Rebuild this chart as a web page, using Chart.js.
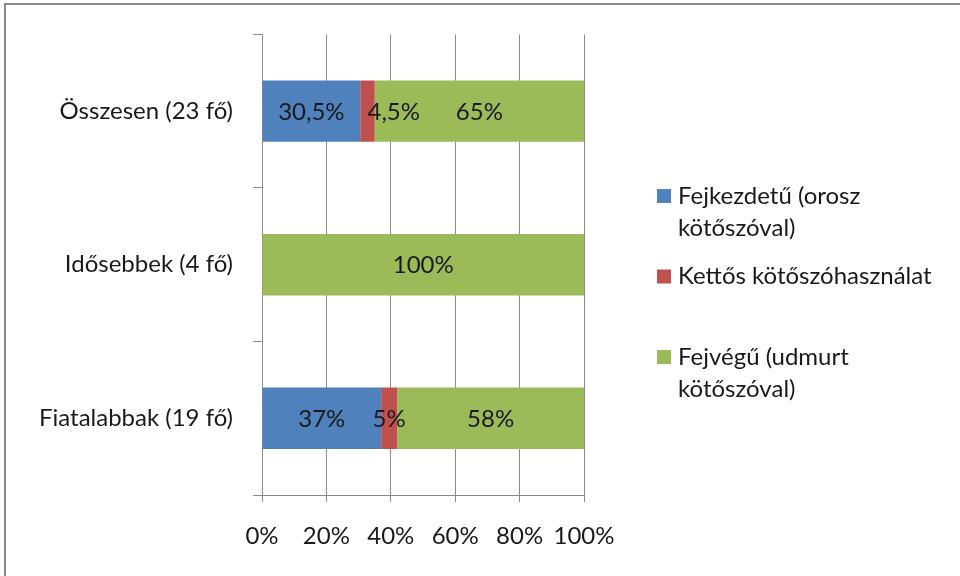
<!DOCTYPE html>
<html>
<head>
<meta charset="utf-8">
<script src="https://cdn.jsdelivr.net/npm/chart.js@4/dist/chart.umd.min.js"></script>
<style>
  html, body { margin: 0; padding: 0; background: #fff; }
  #wrap { position: relative; width: 960px; height: 576px; overflow: hidden; }
  #frame { position: absolute; left: 4px; top: 3px; width: 2000px; height: 2000px;
           border-top: 2px solid #8a8a8a; border-left: 2px solid #8a8a8a; box-sizing: border-box; pointer-events: none; }
  canvas { position: absolute; left: 0; top: 0; }
</style>
</head>
<body>
<div id="wrap">
  <canvas id="c" width="960" height="576"></canvas>
  <div id="frame"></div>
</div>
<script>
const categories = ['Összesen (23 fő)', 'Idősebbek (4 fő)', 'Fiatalabbak (19 fő)'];
const seriesNames = ['Fejkezdetű (orosz kötőszóval)', 'Kettős kötőszóhasználat', 'Fejvégű (udmurt kötőszóval)'];
const fejkezdetu = [30.5, 0, 37];
const kettos = [4.5, 0, 5];
const fejvegu = [65, 100, 58];
const valueLabels = [
  ['30,5%', '', '37%'],
  ['4,5%', '', '5%'],
  ['65%', '100%', '58%']
];
const xTicks = [0, 20, 40, 60, 80, 100];
const colors = ['#4F81BD', '#C0504D', '#9BBB59'];

const FONT = 'Lato, "Open Sans", sans-serif';
const FS = 24;

const dataLabelPlugin = {
  id: 'dataLabels',
  afterDatasetsDraw(chart) {
    const ctx = chart.ctx;
    ctx.save();
    ctx.font = FS + 'px ' + FONT;
    ctx.fillStyle = '#1a1a1a';
    ctx.textBaseline = 'middle';
    ctx.textAlign = 'left';
    const n = chart.data.labels.length;
    for (let i = 0; i < n; i++) {
      let prevEnd = -Infinity;
      chart.data.datasets.forEach((ds, d) => {
        const v = ds.data[i];
        if (!v) return;
        const el = chart.getDatasetMeta(d).data[i];
        const txt = valueLabels[d][i];
        const w = ctx.measureText(txt).width;
        const cx = (el.x + el.base) / 2;
        let start = cx - w / 2;
        if (start < prevEnd + 10) start = Math.max(start, cx);
        ctx.fillText(txt, start, el.y + 1);
        prevEnd = start + w;
      });
    }
    ctx.restore();
  }
};

function wrapText(ctx, text, maxW) {
  const words = text.split(' ');
  const lines = [];
  let cur = '';
  words.forEach(w => {
    const t = cur ? cur + ' ' + w : w;
    if (ctx.measureText(t).width > maxW && cur) { lines.push(cur); cur = w; }
    else cur = t;
  });
  if (cur) lines.push(cur);
  return lines;
}

const legendPlugin = {
  id: 'customLegend',
  afterDraw(chart) {
    const ctx = chart.ctx;
    ctx.save();
    ctx.font = FS + 'px ' + FONT;
    ctx.textBaseline = 'middle';
    const boxX = 657, textX = 678, startY = 196, step = 80.5, lh = 32, maxW = 272;
    chart.data.datasets.forEach((ds, d) => {
      const y0 = startY + d * step;
      ctx.fillStyle = ds.backgroundColor;
      ctx.fillRect(boxX, y0 - 7, 14, 14);
      ctx.fillStyle = '#1a1a1a';
      const lines = wrapText(ctx, ds.label, maxW);
      lines.forEach((ln, k) => ctx.fillText(ln, textX, y0 + k * lh));
    });
    ctx.restore();
  }
};

new Chart(document.getElementById('c'), {
  type: 'bar',
  data: {
    labels: categories,
    datasets: [
      { label: seriesNames[0], data: fejkezdetu, backgroundColor: colors[0] },
      { label: seriesNames[1], data: kettos, backgroundColor: colors[1] },
      { label: seriesNames[2], data: fejvegu, backgroundColor: colors[2] }
    ]
  },
  options: {
    indexAxis: 'y',
    responsive: false,
    animation: false,
    devicePixelRatio: 1,
    layout: { padding: { left: 12, top: 32, right: 376, bottom: 0 } },
    datasets: { bar: { barPercentage: 0.4, categoryPercentage: 1.0, borderWidth: 0 } },
    plugins: { legend: { display: false }, tooltip: { enabled: false } },
    scales: {
      x: {
        stacked: true,
        min: 0, max: 100,
        afterBuildTicks(scale) { scale.ticks = xTicks.map(v => ({ value: v })); },
        afterFit(scale) { scale.height = 81; },
        ticks: {
          callback: v => v + '%',
          color: '#1a1a1a',
          font: { family: FONT, size: FS },
          padding: 20,
          maxRotation: 0
        },
        grid: { color: '#8c8c8c', lineWidth: 1, tickLength: 7, drawOnChartArea: true },
        border: { color: '#8c8c8c', width: 1 }
      },
      y: {
        stacked: true,
        afterFit(scale) { scale.width = 250; },
        ticks: {
          color: '#1a1a1a',
          font: { family: FONT, size: FS },
          padding: 20
        },
        grid: { offset: true, drawOnChartArea: false, color: '#8c8c8c', tickLength: 9 },
        border: { color: '#8c8c8c', width: 1 }
      }
    }
  },
  plugins: [dataLabelPlugin, legendPlugin]
});
</script>
</body>
</html>
